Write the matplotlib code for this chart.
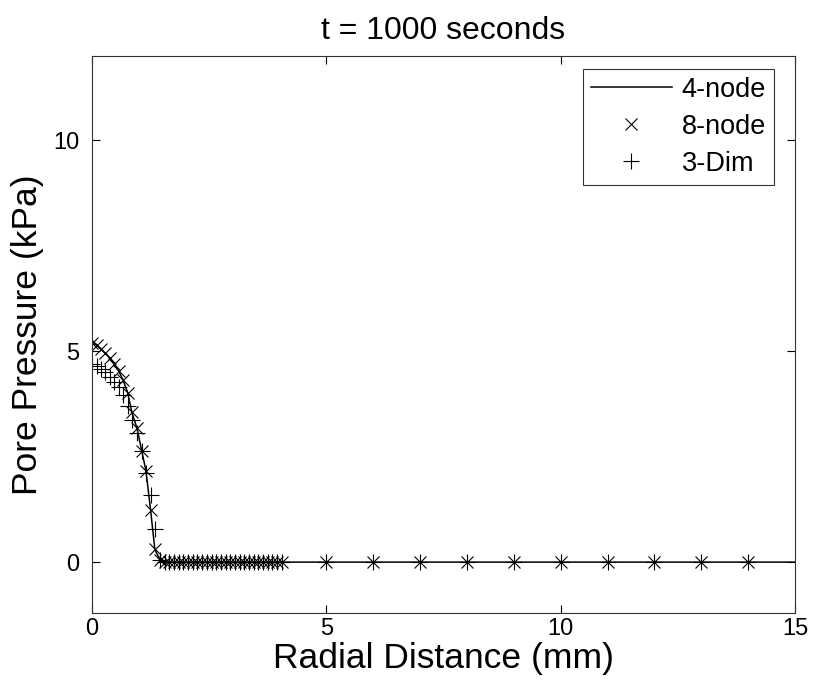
import matplotlib
matplotlib.use('Agg')
from matplotlib import pyplot as plt
import numpy as np

plt.rcParams['font.family'] = ['Liberation Sans', 'DejaVu Sans']

# radial node positions (mm) in the steep part, then the flat part
r_steep = [0, 0.10, 0.19, 0.28, 0.38, 0.47, 0.57, 0.66, 0.76, 0.85,
           0.96, 1.06, 1.15, 1.25, 1.34, 1.45]
r_flat = [1.55, 1.65, 1.75, 1.85, 1.95, 2.05, 2.15, 2.25, 2.35, 2.45,
          2.55, 2.65, 2.75, 2.85, 2.95, 3.05, 3.15, 3.25, 3.35, 3.45,
          3.55, 3.65, 3.75, 3.85, 3.95, 4.05]
r_far = [5, 6, 7, 8, 9, 10, 11, 12, 13, 14]

# pore pressure (kPa)
p8_steep = [5.20, 5.14, 5.05, 4.95, 4.84, 4.70, 4.53, 4.32, 4.02, 3.55,
            3.17, 2.64, 2.17, 1.23, 0.30, 0.05]
p3_steep = [4.69, 4.64, 4.58, 4.50, 4.40, 4.28, 4.14, 3.96, 3.70, 3.38,
            3.05, 2.64, 2.12, 1.59, 0.78, 0.05]
p_flat = [0.0] * len(r_flat)
p_far = [0.0] * len(r_far)

# 4-node solution (line) follows the 8-node one
r4 = r_steep + r_flat + r_far + [15]
p4 = p8_steep + p_flat + p_far + [0.0]

r8 = r_steep + r_flat + r_far
p8 = p8_steep + p_flat + p_far
r3 = r_steep + r_flat + r_far
p3 = p3_steep + p_flat + p_far

fig = plt.figure(figsize=(8.13, 6.82), dpi=100)
ax = fig.add_axes([0.1132, 0.1016, 0.8647, 0.8163])

ax.plot(r4, p4, '-', color='k', lw=1.1, label='4-node')
ax.plot(r8, p8, 'x', color='k', ms=8, mew=0.8, label='8-node')
ax.plot(r3, p3, '+', color='k', ms=11, mew=0.8, label='3-Dim')

ax.set_xlim(0, 15)
ax.set_ylim(-1.2, 12)
ax.set_xticks([0, 5, 10, 15])
ax.set_yticks([0, 5, 10])
ax.tick_params(direction='in', length=6, width=0.8, top=True, right=True,
               labelsize=17)
ax.tick_params(axis='x', pad=4)
ax.tick_params(axis='y', pad=9)
for s in ax.spines.values():
    s.set_linewidth(0.8)
    s.set_color('#333333')

ax.set_xlabel('Radial Distance (mm)', fontsize=25.5, labelpad=1)
ax.set_ylabel('Pore Pressure (kPa)', fontsize=25.5, labelpad=7)
ax.set_title('t = 1000 seconds', fontsize=23, pad=12)

leg = ax.legend(loc='upper right', bbox_to_anchor=(0.970, 0.977),
                borderaxespad=0, fontsize=19.5, handlelength=3.0,
                fancybox=False, frameon=True, edgecolor='k',
                borderpad=0.3, labelspacing=0.4, handletextpad=0.35)
leg.get_frame().set_linewidth(0.8)

plt.savefig('out.png', dpi=100)
